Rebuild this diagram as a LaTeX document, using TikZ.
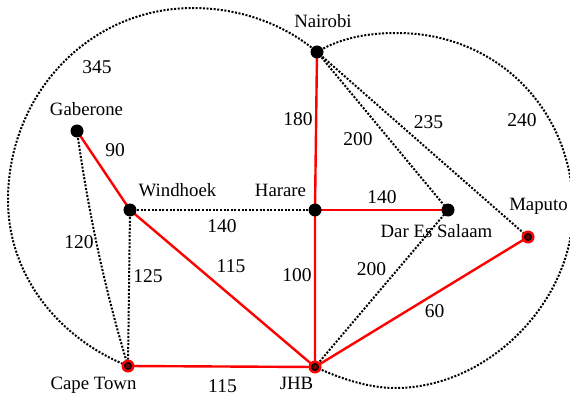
\documentclass[tikz,border=0pt]{standalone}
\usepackage{fontspec}
\setmainfont{Liberation Serif}
\usepackage{tikz}
\pgfdeclarelayer{bg}
\pgfsetlayers{bg,main}
\tikzstyle{town} = [circle, fill=black, minimum size=13pt, inner sep=0pt]
\tikzstyle{hub} = [circle, fill=red, minimum size=13pt, inner sep=0pt,
  path picture={\draw[line width=1.3pt, fill=red!45!black] (path picture bounding box.center) circle (3.3pt);}]
\tikzstyle{redroad} = [draw=red, line width=2.4pt]
\tikzstyle{dotroad} = [draw=black, line width=2pt, dash pattern=on 2pt off 1.6pt]
\tikzstyle{place} = [anchor=base, inner sep=0pt, font=\fontsize{18.8}{20}\selectfont]
\tikzstyle{dist} = [inner sep=0pt, font=\fontsize{19.5}{21}\selectfont]

\begin{document}
\begin{tikzpicture}[x=1pt,y=-1pt]
\useasboundingbox (0,0) rectangle (570,401);
% towns
\node[town] (nai) at (317,52) {};
\node[town] (gab) at (77,131) {};
\node[town] (win) at (130,210) {};
\node[town] (har) at (315,210) {};
\node[town] (dar) at (448,210) {};
\node[hub] (map) at (528,237) {};
\node[hub] (cpt) at (128,366) {};
\node[hub] (jhb) at (315,367) {};
% names
\node[place] (nainame) at (323,28) {Nairobi};
\node[place] (gabname) at (86.5,116) {Gaberone};
\node[place] (winname) at (177.5,196) {Windhoek};
\node[place] (harname) at (280.5,196) {Harare};
\node[place] (darname) at (436.5,237.5) {Dar Es Salaam};
\node[place] (mapname) at (538.5,210) {Maputo};
\node[place] (cptname) at (93.5,389.5) {Cape Town};
\node[place] (jhbname) at (296.5,389.5) {JHB};
% roads
\begin{pgfonlayer}{bg}
\draw[dotroad] (nai.center) .. controls (283,23) and (238,8) .. (193,8)
  .. controls (88,8) and (8,95) .. (8,200)
  .. controls (8,275) and (58,338) .. (cpt.center);
\draw[dotroad] (nai.center) .. controls (342,37) and (370,33) .. (397,33)
  .. controls (497,33) and (573,110) .. (573,210)
  .. controls (573,300) and (490,388) .. (395,388)
  .. controls (365,388) and (335,376) .. (jhb.center);
\draw[dotroad] (gab.center) .. controls (88,210) and (104.5,289) .. (cpt.center);
\draw[dotroad] (win.center) -- (cpt.center);
\draw[dotroad] (win.center) -- (har.center);
\draw[dotroad] (nai.center) -- (dar.center);
\draw[dotroad] (nai.center) -- (map.center);
\draw[dotroad] (jhb.center) -- (dar.center);
\draw[redroad] (gab.center) -- (win.center) -- (jhb.center);
\draw[redroad] (cpt.center) -- (jhb.center) -- (map.center);
\draw[redroad] (nai.center) -- (har.center) -- (jhb.center);
\draw[redroad] (har.center) -- (dar.center);
\end{pgfonlayer}
% distances
\node[dist] (d345) at (97,67.5) {345};
\node[dist] (d90) at (115,150) {90};
\node[dist] (d180) at (298,119) {180};
\node[dist] (d200a) at (358,139.5) {200};
\node[dist] (d235) at (428.5,122.5) {235};
\node[dist] (d240) at (522,120) {240};
\node[dist] (d140a) at (382,197) {140};
\node[dist] (d140b) at (222,226) {140};
\node[dist] (d120) at (79,242) {120};
\node[dist] (d125) at (148,276.5) {125};
\node[dist] (d115a) at (231,266.5) {115};
\node[dist] (d100) at (297,275.5) {100};
\node[dist] (d200b) at (371.5,269) {200};
\node[dist] (d60) at (434.5,311) {60};
\node[dist] (d115b) at (222.5,386.5) {115};
\end{tikzpicture}
\end{document}
